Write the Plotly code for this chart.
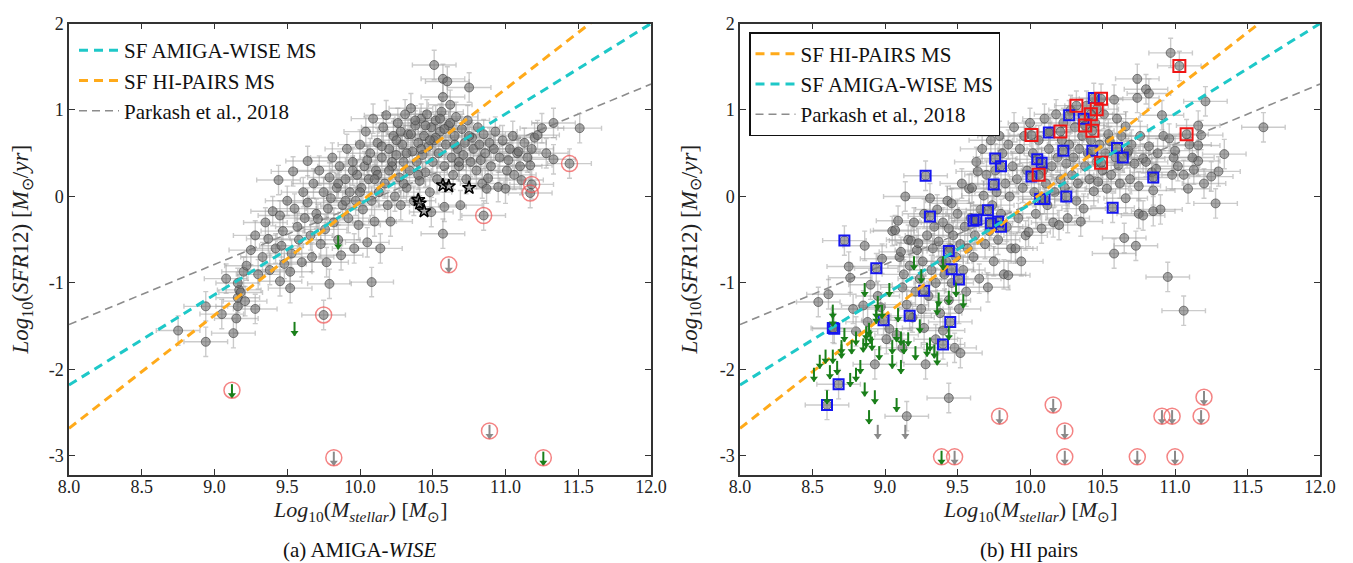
import plotly.graph_objects as go
from plotly.subplots import make_subplots

# ---------------- DATA ----------------
# Panel (a) AMIGA-WISE : grey points (log stellar mass, log SFR12)
amiga_mass = [8.75, 8.94, 8.94, 9.05, 9.13, 9.15, 9.16, 9.16, 9.17, 9.18, 9.21, 9.28, 9.16, 9.45, 9.52, 9.79, 10.08, 9.75,
              9.08, 9.20,
              9.22, 9.25, 9.28, 9.30, 9.33, 9.35, 9.37, 9.38, 9.40, 9.42, 9.44, 9.45, 9.46, 9.47, 9.48, 9.50, 9.52, 9.53,
              9.54, 9.55, 9.57, 9.58,
              9.60, 9.61, 9.62, 9.64, 9.64, 9.66, 9.67, 9.68, 9.70, 9.71, 9.72, 9.73, 9.75, 9.76, 9.77, 9.78, 9.79, 9.80,
              9.81, 9.82, 9.84, 9.85, 9.86, 9.87, 9.88, 9.90, 9.91, 9.92, 9.93, 9.95, 9.96, 9.97, 9.98, 9.99,
              10.00, 10.01, 10.02, 10.03, 10.04, 10.05, 10.06, 10.07, 10.08, 10.09, 10.10, 10.11, 10.12, 10.13, 10.14,
              10.15, 10.16, 10.17, 10.18, 10.19, 10.20, 10.21, 10.22, 10.23, 10.24, 10.25, 10.26, 10.27, 10.28, 10.29,
              10.30, 10.31, 10.32, 10.33, 10.34, 10.35, 10.36, 10.37, 10.38, 10.39, 10.40, 10.41, 10.42, 10.43, 10.44,
              10.45, 10.46, 10.47, 10.48, 10.49, 10.49,
              10.50, 10.51, 10.51, 10.52, 10.53, 10.54, 10.55, 10.56, 10.57, 10.57, 10.57, 10.58, 10.58, 10.59, 10.60,
              10.61, 10.62, 10.63, 10.64, 10.65, 10.66, 10.67, 10.68, 10.69, 10.70, 10.71, 10.72, 10.73, 10.74, 10.75,
              10.76, 10.77, 10.78, 10.80, 10.81, 10.82, 10.83, 10.84, 10.85, 10.86, 10.87, 10.88, 10.89,
              10.90, 10.92, 10.93, 10.95, 10.96, 10.98, 11.00, 11.01, 11.02, 11.03, 11.05, 11.06, 11.08, 11.09, 11.10,
              11.11, 11.13, 11.15, 11.17, 11.18, 11.20, 11.22, 11.25, 11.28, 11.33, 11.33, 11.51,
              10.85, 11.18, 11.17, 11.44,
              9.85, 9.95, 10.05, 10.15, 10.25, 10.35, 10.45, 10.55, 10.65, 10.75, 10.12, 10.22, 10.32, 10.42, 10.52,
              10.62, 10.28, 10.38, 10.48, 10.58, 10.68, 9.90, 10.00, 10.10, 10.20, 10.30, 10.40]
amiga_sfr = [-1.55, -1.27, -1.68, -1.36, -1.58, -1.41, -1.27, -1.17, -1.08, -1.11, -1.21, -1.30, -1.00, -0.98, -1.06, -1.01, -0.99, -1.37,
             -0.95, -0.87,
             -0.80, -0.62, -0.45, -0.90, -0.70, -0.30, -0.49, -0.85, -0.17, -0.60, 0.19, -0.22, -0.57, -0.40, -0.78, -0.05, -0.87, -0.66,
             0.29, -0.14, -0.35, -0.50,
             -0.76, 0.05, -0.25, -0.07, 0.41, -0.45, -0.70, 0.15, -0.20, -0.26, 0.30, -0.55, 0.05, -0.38, -0.76, -0.14, 0.22, -0.02,
             0.45, -0.30, 0.10, -0.50, 0.35, -0.68, -0.10, 0.20, 0.55, -0.25, 0.05, 0.40, -0.60, -0.05, 0.25, -0.33,
             0.60, 0.10, -0.15, 0.35, 0.75, -0.53, 0.20, 0.50, -0.05, 0.90, -0.29, 0.30, 0.62, 0.05, -0.60,
             0.45, 0.80, 0.15, 0.94, -0.10, 0.55, -0.29, 0.35, 0.70, 0.00, 0.48, 0.85, 0.22, -0.10, 0.60,
             0.40, 0.95, 0.10, 0.72, 0.30, 1.02, 0.52, -0.05, 0.82, 0.40, 0.62, 0.18, 0.90, 0.48, 0.70,
             0.28, 0.95, 0.58, 0.05, -0.18, 0.80,
             0.40, 1.52, 0.65, 0.88, 0.20, 0.50, 0.75, 0.98, 1.36, 1.15, -0.43, 0.35, -0.12, 0.60, 1.33,
             0.82, 1.06, 0.45, 0.25, 0.70, 0.92, 0.55, 0.35, -0.10, 0.78, 0.48, 0.62, 0.20, 0.88, 1.26,
             0.40, 0.68, 0.55, 0.30, 0.80, 0.60, 0.42, 0.15, 0.72, 0.50, 0.09, 0.21, 0.62,
             0.35, 0.55, 0.75, 0.11, 0.45, 0.65, 0.09, 0.30, 0.42, 0.55, 0.70, 0.25, 0.50, 0.52, 0.35,
             0.19, 0.62, 0.45, 0.36, 0.55, 0.68, 0.71, 0.79, 0.50, 0.85, 0.43, 0.79,
             -0.22, 0.14, 0.04, 0.38,
             0.15, 0.30, 0.42, 0.58, 0.65, 0.72, 0.82, 0.90, 0.60, 0.70, 0.25, 0.40, 0.50, 0.55, 0.68,
             0.85, 0.75, 0.88, 0.65, 0.78, 0.40, -0.05, 0.05, 0.20, 0.30, 0.15, 0.25]
# stars (black) in panel (a)
amiga_star_mass = [10.40, 10.41, 10.44, 10.57, 10.61, 10.75]
amiga_star_sfr = [-0.04, -0.08, -0.17, 0.13, 0.12, 0.10]
# upper limits in panel (a)
amiga_green_lim_mass = [9.55, 9.85, 9.12, 11.26]
amiga_green_lim_sfr = [-1.52, -0.52, -2.24, -3.02]
amiga_grey_lim_mass = [10.61, 9.82, 10.89]
amiga_grey_lim_sfr = [-0.79, -3.02, -2.71]
# red circles (panel a)
amiga_circle_mass = [10.61, 10.85, 11.18, 11.17, 11.44, 9.75, 9.12, 9.82, 10.89, 11.26]
amiga_circle_sfr = [-0.79, -0.22, 0.14, 0.04, 0.38, -1.37, -2.24, -3.02, -2.71, -3.02]

# Panel (b) HI pairs : grey points
hip_mass = [8.54, 8.61, 8.75, 8.76, 8.78, 8.85, 8.80, 8.93, 9.01, 9.03, 8.86, 8.90, 8.95, 8.98, 8.88, 8.97,
            9.05, 9.07, 9.09, 9.10, 9.11, 9.12, 9.13, 9.14, 9.15, 9.16, 9.17, 9.18, 9.19, 9.20, 9.21, 9.22, 9.23,
            9.24, 9.25, 9.26, 9.27, 9.28, 9.29, 9.30, 9.31, 9.32, 9.15, 9.08, 9.12, 9.27,
            9.33, 9.34, 9.35, 9.36, 9.37, 9.38, 9.39, 9.40, 9.41, 9.42, 9.43, 9.44, 9.44, 9.45, 9.46, 9.46, 9.47,
            9.48, 9.49, 9.50, 9.51, 9.52, 9.52, 9.53, 9.54, 9.55, 9.56, 9.57, 9.58, 9.59, 9.44, 9.40, 9.35,
            9.60, 9.61, 9.62, 9.63, 9.64, 9.65, 9.66, 9.67, 9.68, 9.69, 9.70, 9.71, 9.72, 9.73, 9.74, 9.75, 9.76,
            9.77, 9.78, 9.79, 9.80, 9.81, 9.82, 9.83, 9.84, 9.85, 9.85, 9.86, 9.87, 9.88, 9.89, 9.90, 9.91, 9.92,
            9.93, 9.94, 9.95, 9.96, 9.97, 9.98, 9.99,
            10.00, 10.02, 10.03, 10.04, 10.06, 10.08, 10.09, 10.10, 10.11, 10.12, 10.13, 10.14, 10.15, 10.16, 10.17,
            10.18, 10.19, 10.20, 10.21, 10.22, 10.23, 10.24, 10.25, 10.26, 10.27, 10.28, 10.29, 10.30, 10.31, 10.32,
            10.33, 10.34, 10.35, 10.36, 10.37, 10.38, 10.39, 10.40,
            10.41, 10.42, 10.44, 10.45, 10.46, 10.47, 10.48, 10.50, 10.51, 10.52, 10.53, 10.54, 10.55, 10.56, 10.58,
            10.58, 10.59, 10.60, 10.61, 10.62, 10.63, 10.65, 10.66, 10.66, 10.67, 10.68, 10.69,
            10.70, 10.72, 10.73, 10.74, 10.74, 10.75, 10.75, 10.76, 10.78, 10.78, 10.80, 10.80, 10.82, 10.82, 10.84,
            10.85, 10.85, 10.87, 10.88, 10.90, 10.91, 10.92, 10.95, 10.96, 10.97, 10.98, 10.99,
            11.00, 11.02, 11.06, 11.06, 11.09, 11.10, 11.13, 11.16, 11.16, 11.16, 11.18, 11.21, 11.25, 11.28, 11.30,
            11.34, 11.61, 11.20, 11.12]
hip_sfr = [-1.22, -1.13, -0.81, -0.94, -1.30, -1.26, -1.56, -1.94, -1.65, -1.53, -0.57, -1.02, -1.15, -0.72, -1.45, -1.28,
           -0.40, -0.39, -0.28, -0.70, -0.64, -1.05, -0.90, 0.00, -1.25, -0.50, -0.80, -0.51, -1.40, -0.30, -1.10, -0.62, -0.54,
           -0.95, -1.30, -0.75, -0.20, -1.94, -0.45, -1.15, -0.02, -0.85, -2.54, -1.60, -1.75, -1.52,
           -0.60, -0.35, -1.00, -0.15, -0.52, -1.35, -0.75, -0.30, -0.90, -0.75, -0.05, -0.37, -1.20, -0.60, -0.08, -1.00, -0.45,
           -1.75, -0.70, -0.20, -1.30, -1.81, -0.55, 0.15, -0.85, -0.35, -1.10, -0.60, 0.09, -0.25, -2.33, -1.55, -1.65,
           0.10, -0.70, -0.45, 0.40, 0.29, -0.95, -0.15, 0.55, 0.01, -0.55, 0.25, -1.05, -0.40, 0.65, -0.10, -0.75, 0.30,
           0.05, -0.50, 0.70, -0.20, 0.50, -0.90, 0.15, -0.35, 0.60, -0.91, 0.00, -0.60, 0.35, 0.80, -0.60, 0.20, -0.25,
           0.55, -0.75, 0.10, 0.70, -0.45, 0.30, -0.41,
           0.85, 0.50, 0.05, -0.20, 0.65, -0.37, 0.30, 0.90, 0.15, -0.10, 0.55, 0.75, 0.35, -0.30, 0.05,
           0.95, 0.45, -0.33, 0.20, 0.65, 0.85, 0.10, 0.38, -0.25, 0.60, 1.00, 0.25, 0.45, 0.80, -0.05,
           0.15, 0.55, -0.29, 0.70, -0.14, 0.35, 1.05, 0.50,
           0.20, 0.65, 0.06, 0.85, 0.40, 0.17, 0.60, 0.30, 0.95, 0.50, 0.09, 0.72, 0.64, 0.25, 1.12,
           -0.66, 0.45, 0.90, 0.36, 0.15, 0.70, -0.48, 0.81, -0.02, 0.50, 0.53, 0.20,
           0.60, 0.38, -0.57, 1.36, 1.14, 0.12, -0.20, 0.70, -0.22, 0.44, 1.24, 0.40, 1.19, 0.58, 0.28,
           0.07, -0.17, 0.32, 0.50, -0.15, 0.94, 0.70, -0.93, 0.67, 1.66, 0.25, 0.45,
           0.53, 0.35, 0.25, -1.32, 0.09, 0.60, 0.31, 0.82, 0.59, 0.41, 0.71, 1.10, 0.23, -0.08, 0.29,
           0.49, 0.80, 0.15, 0.45]
# blue squares (panel b)
hip_blue_mass = [9.28, 9.31, 8.72, 8.94, 9.76, 9.80, 9.75, 9.71, 9.61, 9.63, 9.73, 9.78, 9.80, 9.44, 9.46, 9.51,
                 9.27, 9.17, 8.99, 9.45, 8.64, 8.65, 9.40, 8.68, 8.60,
                 10.44, 10.27, 10.37, 10.13, 10.23, 10.43, 10.60, 10.64, 10.05, 10.08, 10.01, 10.25, 10.07, 10.10,
                 10.57, 10.85]
hip_blue_sfr = [0.24, -0.23, -0.51, -0.83, 0.44, 0.35, 0.14, -0.16, -0.28, -0.27, -0.31, -0.29, -0.35, -0.63, -0.84, -0.96,
                -1.09, -1.38, -1.43, -1.45, -1.52, -1.53, -1.71, -2.17, -2.41,
                1.14, 0.94, 0.90, 0.74, 0.53, 0.53, 0.56, 0.45, 0.43, 0.39, 0.23, 0.00, -0.03, -0.03,
                -0.13, 0.22]
# red squares (panel b)
hip_red_mass = [11.03, 10.32, 10.49, 10.46, 10.42, 10.38, 10.43, 10.21, 10.01, 10.49, 10.06, 11.08]
hip_red_sfr = [1.51, 1.05, 1.13, 1.01, 0.95, 0.82, 0.76, 0.75, 0.71, 0.39, 0.25, 0.72]
# upper limits (panel b)
hip_green_lim_mass = [9.20, 9.25, 9.40, 8.86, 9.03, 8.95, 9.37, 9.44, 9.49, 9.54, 9.36, 8.64, 8.64, 8.94, 8.98,
                      8.94, 9.09, 8.72, 8.80, 8.87, 8.89, 8.90, 8.91, 8.87, 8.85, 8.77, 9.08, 9.11, 9.16, 9.13,
                      9.05, 9.24, 9.31, 9.29, 9.34, 9.44, 9.36, 9.21, 8.70, 8.64, 8.59, 8.55, 8.70, 8.67, 8.62,
                      8.51, 8.76, 8.80, 8.83, 8.96, 9.05, 9.11, 8.86, 8.93, 9.08, 8.89, 8.60, 9.39]
hip_green_lim_sfr = [-0.76, -0.91, -0.76, -1.07, -1.07, -1.22, -1.18, -1.16, -1.07, -1.20, -1.28, -1.32, -1.41, -1.32, -1.32,
                     -1.38, -1.36, -1.59, -1.63, -1.57, -1.53, -1.61, -1.69, -1.66, -1.71, -1.73, -1.59, -1.63, -1.64, -1.73,
                     -1.73, -1.49, -1.70, -1.76, -1.78, -1.57, -1.86, -1.80, -1.73, -1.84, -1.84, -1.90, -1.78, -1.97, -2.02,
                     -2.05, -2.11, -2.05, -1.96, -1.80, -1.90, -1.96, -2.22, -2.31, -2.40, -2.54, -2.31, -3.01]
hip_grey_lim_mass = [8.95, 9.14, 9.48, 9.79, 10.16, 10.24, 10.24, 10.74, 10.91, 10.98, 11.00, 11.18, 11.20]
hip_grey_lim_sfr = [-2.71, -2.71, -3.01, -2.54, -2.41, -2.71, -3.01, -3.01, -2.54, -2.54, -3.01, -2.54, -2.32]
# red circles (panel b)
hip_circle_mass = [9.39, 9.48, 9.79, 10.16, 10.24, 10.24, 10.74, 10.91, 10.98, 11.00, 11.18, 11.20]
hip_circle_sfr = [-3.01, -3.01, -2.54, -2.41, -2.71, -3.01, -3.01, -2.54, -2.54, -3.01, -2.54, -2.32]

# Main-sequence relations (end points over the mass axis)
ms_mass = [8.0, 12.0]
ms_amiga_sfr = [-2.18, 2.0]
ms_hipairs_sfr = [-2.68, 2.55]
ms_parkash_sfr = [-1.48, 1.30]

# uncertainties (dex)
mass_err = 0.15
sfr_err = 0.17

x_ticks = [8.0, 8.5, 9.0, 9.5, 10.0, 10.5, 11.0, 11.5, 12.0]
x_ticklabels = ["8.0", "8.5", "9.0", "9.5", "10.0", "10.5", "11.0", "11.5", "12.0"]
y_ticks = [-3, -2, -1, 0, 1, 2]
y_ticklabels = ["-3", "-2", "-1", "0", "1", "2"]

# ---------------- FIGURE ----------------
W, H = 1353, 563
fig = make_subplots(rows=1, cols=2)

SERIF = 'Liberation Serif'
GREY_PT = 'rgba(110,110,110,0.6)'
GREY_EDGE = 'rgba(60,60,60,0.6)'
ERR_COL = 'rgba(160,160,160,0.55)'
GREEN = '#1a7f1a'
ARROW_GREY = '#8a8a8a'
CIRCLE_RED = 'rgba(240,90,90,0.75)'
ARROW_UP, ARROW_DOWN, HEAD_OFF = 0.07, 0.09, 0.055


def grey_points(xs, ys, col):
    fig.add_trace(go.Scatter(
        x=xs, y=ys, mode='markers',
        marker=dict(size=9, color=GREY_PT, line=dict(color=GREY_EDGE, width=1)),
        error_x=dict(type='constant', value=mass_err, color=ERR_COL, thickness=1.4, width=2.5),
        error_y=dict(type='constant', value=sfr_err, color=ERR_COL, thickness=1.4, width=2.5),
        showlegend=False, hoverinfo='skip'), row=1, col=col)


def arrows(xs, ys, color, col):
    fig.add_trace(go.Scatter(
        x=xs, y=ys, mode='markers', marker=dict(size=1, color='rgba(0,0,0,0)'),
        error_y=dict(type='data', symmetric=False, array=[ARROW_UP] * len(xs),
                     arrayminus=[ARROW_DOWN] * len(xs), color=color, thickness=2, width=0),
        showlegend=False, hoverinfo='skip'), row=1, col=col)
    fig.add_trace(go.Scatter(
        x=xs, y=[v - HEAD_OFF for v in ys], mode='markers',
        marker=dict(symbol='triangle-down', size=7, color=color, line=dict(width=0)),
        showlegend=False, hoverinfo='skip'), row=1, col=col)


def circles(xs, ys, col):
    fig.add_trace(go.Scatter(
        x=xs, y=ys, mode='markers',
        marker=dict(symbol='circle-open', size=16, color=CIRCLE_RED, line=dict(width=1.5)),
        showlegend=False, hoverinfo='skip'), row=1, col=col)


def ms_line(ys, color, width, dash, name, legend, rank, col):
    fig.add_trace(go.Scatter(
        x=ms_mass, y=ys, mode='lines', name=name, legend=legend, legendrank=rank,
        line=dict(color=color, width=width, dash=dash), hoverinfo='skip'), row=1, col=col)


CYAN = '#1ec8c8'
ORANGE = '#ffaa1a'
PGREY = '#8c8c8c'

# ----- panel (a)
ms_line(ms_parkash_sfr, PGREY, 1.6, '8px,5px', 'Parkash et al., 2018', 'legend', 3, 1)
grey_points(amiga_mass, amiga_sfr, 1)
fig.add_trace(go.Scatter(x=amiga_star_mass, y=amiga_star_sfr, mode='markers',
                         marker=dict(symbol='star', size=10, color='rgba(120,120,120,0.6)',
                                     line=dict(color='black', width=1.5)),
                         showlegend=False, hoverinfo='skip'), row=1, col=1)
ms_line(ms_amiga_sfr, CYAN, 3, '9px,6px', 'SF AMIGA-WISE MS', 'legend', 1, 1)
ms_line(ms_hipairs_sfr, ORANGE, 3, '9px,6px', 'SF HI-PAIRS MS', 'legend', 2, 1)
arrows(amiga_green_lim_mass, amiga_green_lim_sfr, GREEN, 1)
arrows(amiga_grey_lim_mass, amiga_grey_lim_sfr, ARROW_GREY, 1)
circles(amiga_circle_mass, amiga_circle_sfr, 1)

# ----- panel (b)
ms_line(ms_parkash_sfr, PGREY, 1.6, '8px,5px', 'Parkash et al., 2018', 'legend2', 3, 2)
grey_points(hip_mass, hip_sfr, 2)
grey_points(hip_blue_mass + hip_red_mass, hip_blue_sfr + hip_red_sfr, 2)
fig.add_trace(go.Scatter(x=hip_blue_mass, y=hip_blue_sfr, mode='markers',
                         marker=dict(symbol='square-open', size=10, color='#1515f0', line=dict(width=2)),
                         showlegend=False, hoverinfo='skip'), row=1, col=2)
fig.add_trace(go.Scatter(x=hip_red_mass, y=hip_red_sfr, mode='markers',
                         marker=dict(symbol='square-open', size=12, color='#f01515', line=dict(width=2)),
                         showlegend=False, hoverinfo='skip'), row=1, col=2)
ms_line(ms_hipairs_sfr, ORANGE, 3, '9px,6px', 'SF HI-PAIRS MS', 'legend2', 1, 2)
ms_line(ms_amiga_sfr, CYAN, 3, '9px,6px', 'SF AMIGA-WISE MS', 'legend2', 2, 2)
arrows(hip_green_lim_mass, hip_green_lim_sfr, GREEN, 2)
arrows(hip_grey_lim_mass, hip_grey_lim_sfr, ARROW_GREY, 2)
circles(hip_circle_mass, hip_circle_sfr, 2)

# ----- axes
y_dom = [1 - 467 / H, 1 - 15.5 / H]
x_doms = [[61 / W, 643 / W], [732 / W, 1312 / W]]
tickfont = dict(family=SERIF, size=18, color='#222')
xtitle = '<i>Log</i><sub>10</sub>(<i>M<sub>stellar</sub></i>) [<i>M</i><sub>⊙</sub>]'
ytitle = '<i>Log</i><sub>10</sub>(<i>SFR</i>12) [<i>M</i><sub>⊙</sub>/<i>yr</i>]'
for i in (1, 2):
    fig.update_xaxes(row=1, col=i, domain=x_doms[i - 1], range=[8.0, 12.0], tickvals=x_ticks,
                     ticktext=x_ticklabels, ticks='inside', ticklen=6, tickwidth=1.2, tickcolor='#333',
                     showline=True, linecolor='#333', linewidth=1.5, mirror='ticks', showgrid=False,
                     zeroline=False, tickfont=tickfont, automargin=False, ticklabelstandoff=-5)
    fig.update_yaxes(row=1, col=i, domain=y_dom, range=[-3.22, 2.0], tickvals=y_ticks,
                     ticktext=y_ticklabels, ticks='inside', ticklen=6, tickwidth=1.2, tickcolor='#333',
                     showline=True, linecolor='#333', linewidth=1.5, mirror='ticks', showgrid=False,
                     zeroline=False, tickfont=tickfont, automargin=False,
                     title=dict(text=ytitle, standoff=16,
                                font=dict(family='Liberation Serif', size=23, color='#222')))

legfont = dict(family=SERIF, size=21, color='#111')
title_font = dict(family='Liberation Serif', size=22, color='#222')
cap_font = dict(family='Liberation Serif', size=21, color='#111')
fig.update_layout(
    width=W, height=H, plot_bgcolor='white', paper_bgcolor='white',
    margin=dict(l=0, r=0, t=0, b=0),
    legend=dict(x=66 / W, y=1 - 22 / H, xanchor='left', yanchor='top', font=legfont,
                bgcolor='rgba(255,255,255,0)', borderwidth=0, tracegroupgap=0, itemwidth=40),
    legend2=dict(x=741 / W, y=1 - 24 / H, xanchor='left', yanchor='top', font=legfont,
                 bgcolor='white', bordercolor='#111', borderwidth=1.5, tracegroupgap=0, itemwidth=40),
    annotations=[
        dict(text=xtitle, x=352 / W, y=1 - 503 / H, xref='paper', yref='paper', xanchor='center',
             yanchor='middle', showarrow=False, font=title_font),
        dict(text=xtitle, x=1022 / W, y=1 - 503 / H, xref='paper', yref='paper', xanchor='center',
             yanchor='middle', showarrow=False, font=title_font),
        dict(text='(a) AMIGA-<i>WISE</i>', x=352 / W, y=1 - 542 / H, xref='paper', yref='paper',
             xanchor='center', yanchor='middle', showarrow=False, font=cap_font),
        dict(text='(b) HI pairs', x=1021 / W, y=1 - 542 / H, xref='paper', yref='paper',
             xanchor='center', yanchor='middle', showarrow=False, font=cap_font),
    ],
)

fig.write_html('out.html')
